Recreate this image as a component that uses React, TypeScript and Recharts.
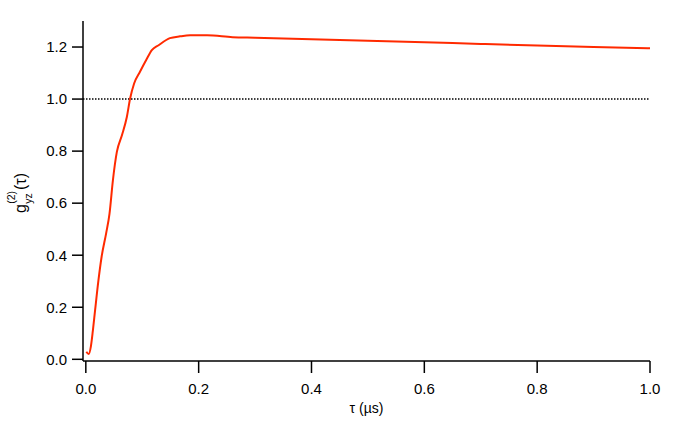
import { LineChart, Line, XAxis, YAxis, ReferenceLine } from "recharts";

// delay tau in microseconds and measured g_yz^(2)(tau)
const TAU = [0.001, 0.005, 0.009, 0.0125, 0.0165, 0.0224, 0.028, 0.036, 0.042, 0.048, 0.055, 0.064, 0.0727, 0.0785, 0.0856, 0.096, 0.107, 0.117, 0.129, 0.149, 0.167, 0.185, 0.215, 0.26, 0.3, 0.4, 0.5, 0.6, 0.7, 0.8, 0.9, 1.0];
const G2 = [0.029, 0.02, 0.05, 0.11, 0.19, 0.304, 0.394, 0.484, 0.56, 0.688, 0.797, 0.861, 0.931, 1.002, 1.06, 1.105, 1.15, 1.188, 1.207, 1.234, 1.241, 1.245, 1.245, 1.238, 1.236, 1.23, 1.224, 1.218, 1.212, 1.206, 1.2, 1.195];

const X_TICKS = [0, 0.2, 0.4, 0.6, 0.8, 1.0];
const Y_TICKS = [0, 0.2, 0.4, 0.6, 0.8, 1.0, 1.2];

const data = TAU.map((t, i) => ({ tau: t, g: G2[i] }));

const FONT = "'Liberation Sans', Arial, sans-serif";
const TICK = { fontSize: 15, fill: "#000", fontFamily: FONT } as const;
const AXIS_LINE = { stroke: "#000", strokeWidth: 1.5 };

function XLabel({ viewBox }: any) {
  const { x, y, width } = viewBox;
  return (
    <text x={x + width / 2} y={y + 52} textAnchor="middle" fontSize={14} fontFamily={FONT} fill="#000">
      τ (µs)
    </text>
  );
}

function YLabel({ viewBox }: any) {
  const { y, height } = viewBox;
  const cy = y + height / 2;
  return (
    <g transform={`translate(26, ${cy + 22}) rotate(-90)`} fontFamily={FONT} fill="#000">
      <text x={0} y={0} fontSize={16}>g</text>
      <text x={9.2} y={5.5} fontSize={10.5}>yz</text>
      <text x={9.2} y={-11.5} fontSize={10.5}>(2)</text>
      <text x={23} y={0} fontSize={16}>(τ)</text>
    </g>
  );
}

export default function App() {
  return (
    <div style={{ position: "fixed", left: 0, top: 0, width: 692, height: 425, background: "#fff" }}>
      <LineChart width={692} height={425} data={data} margin={{ top: 21, right: 42, bottom: 0, left: 0 }}>
        <XAxis
          dataKey="tau" type="number" domain={[-0.005, 1]} ticks={X_TICKS} allowDataOverflow
          tickFormatter={(v: number) => v.toFixed(1)} tick={TICK} axisLine={AXIS_LINE}
          tickLine={AXIS_LINE} tickSize={12} tickMargin={10} height={64}
          label={(p: any) => <XLabel {...p} />}
        />
        <YAxis
          type="number" domain={[-0.0065, 1.3]} ticks={Y_TICKS} allowDataOverflow
          tickFormatter={(v: number) => v.toFixed(1)} tick={TICK} axisLine={AXIS_LINE}
          tickLine={AXIS_LINE} tickSize={11} tickMargin={5} width={83}
          label={(p: any) => <YLabel {...p} />}
        />
        <ReferenceLine y={1} stroke="#000" strokeWidth={1.5} strokeDasharray="1.5 1.5" />
        <Line dataKey="g" type="monotone" stroke="#ff2a00" strokeWidth={2} dot={false} isAnimationActive={false} />
      </LineChart>
    </div>
  );
}
